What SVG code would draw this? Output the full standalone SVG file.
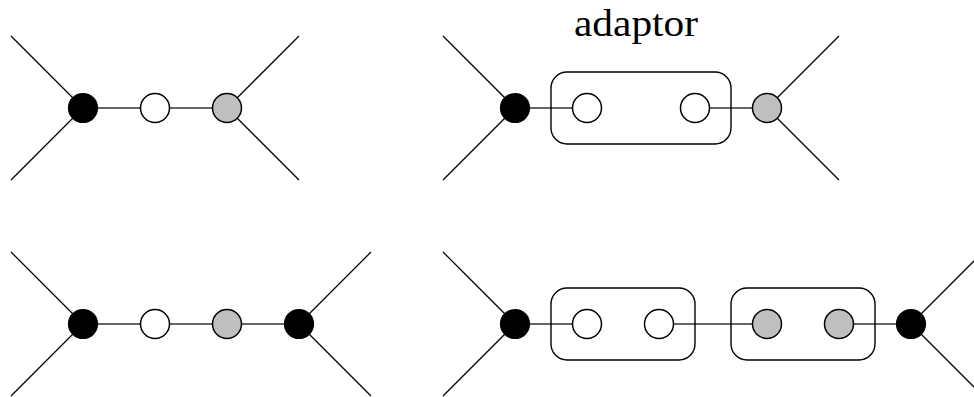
<svg xmlns="http://www.w3.org/2000/svg" width="974" height="397" viewBox="0 0 974 397">
<style>
.e{stroke:#000;stroke-width:1.3;fill:none}
.h{stroke:#333;stroke-width:1.6;fill:none}
.b{fill:#000;stroke:#000;stroke-width:1.2}
.w{fill:#fff;stroke:#000;stroke-width:1.5}
.g{fill:#bfbfbf;stroke:#000;stroke-width:1.5}
.box{fill:none;stroke:#000;stroke-width:1.4}
.t{font-family:"Liberation Serif","Times New Roman",serif;font-size:37px;fill:#000}
</style>
<rect width="974" height="397" fill="#fff"/>
<g id="connectors">
<path class="e" d="M11,36L83,108L11,180M299,36L227,108L299,180"/>
<path class="h" d="M83,108H227"/>
<path class="e" d="M443,36L515,108L443,180M839,36L767,108L839,180"/>
<path class="h" d="M515,108H587M695,108H767"/>
<path class="e" d="M11,252L83,324L11,396M371,252L299,324L371,396"/>
<path class="h" d="M83,324H299"/>
<path class="e" d="M443,252L515,324L443,396M983,252L911,324L983,396"/>
<path class="h" d="M515,324H587M659,324H767M839,324H911"/>
</g>
<g id="adaptor-top">
<rect class="box" x="551" y="72" width="180" height="72" rx="16"/>
<text class="t" x="636" y="36" text-anchor="middle" textLength="124" lengthAdjust="spacingAndGlyphs">adaptor</text>
</g>
<g id="adaptor-bottom-1"><rect class="box" x="551" y="288" width="144" height="72" rx="16"/></g>
<g id="adaptor-bottom-2"><rect class="box" x="731" y="288" width="144" height="72" rx="16"/></g>
<g id="tl-black"><circle class="b" cx="83" cy="108" r="14.5"/></g>
<g id="tl-white"><circle class="w" cx="155" cy="108" r="14.5"/></g>
<g id="tl-gray"><circle class="g" cx="227" cy="108" r="14.5"/></g>
<g id="tr-black"><circle class="b" cx="515" cy="108" r="14.5"/></g>
<g id="tr-white1"><circle class="w" cx="587" cy="108" r="14.5"/></g>
<g id="tr-white2"><circle class="w" cx="695" cy="108" r="14.5"/></g>
<g id="tr-gray"><circle class="g" cx="767" cy="108" r="14.5"/></g>
<g id="bl-black1"><circle class="b" cx="83" cy="324" r="14.5"/></g>
<g id="bl-white"><circle class="w" cx="155" cy="324" r="14.5"/></g>
<g id="bl-gray"><circle class="g" cx="227" cy="324" r="14.5"/></g>
<g id="bl-black2"><circle class="b" cx="299" cy="324" r="14.5"/></g>
<g id="br-black1"><circle class="b" cx="515" cy="324" r="14.5"/></g>
<g id="br-white1"><circle class="w" cx="587" cy="324" r="14.5"/></g>
<g id="br-white2"><circle class="w" cx="659" cy="324" r="14.5"/></g>
<g id="br-gray1"><circle class="g" cx="767" cy="324" r="14.5"/></g>
<g id="br-gray2"><circle class="g" cx="839" cy="324" r="14.5"/></g>
<g id="br-black2"><circle class="b" cx="911" cy="324" r="14.5"/></g>
</svg>
